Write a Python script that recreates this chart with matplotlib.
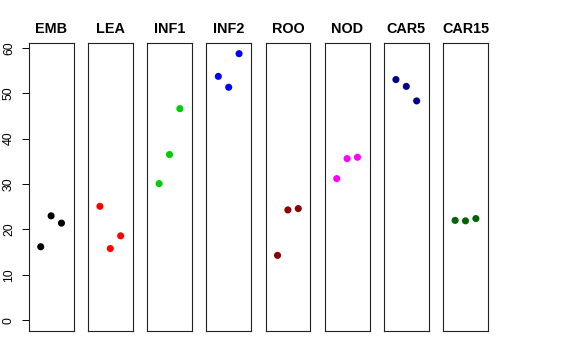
import matplotlib
matplotlib.use("Agg")
import matplotlib.pyplot as plt

categories = ["EMB", "LEA", "INF1", "INF2", "ROO", "NOD", "CAR5", "CAR15"]
colors = ["#000000", "#FF0000", "#00CD00", "#0000FF", "#8B0000", "#FF00FF", "#00008B", "#006400"]
values = {
    "EMB": [16.2, 23.0, 21.4],
    "LEA": [25.1, 15.8, 18.6],
    "INF1": [30.1, 36.5, 46.6],
    "INF2": [53.7, 51.3, 58.7],
    "ROO": [14.3, 24.3, 24.6],
    "NOD": [31.2, 35.6, 35.9],
    "CAR5": [53.0, 51.5, 48.3],
    "CAR15": [22.0, 21.9, 22.4],
}
reps = [1, 2, 3]
yticks = [0, 10, 20, 30, 40, 50, 60]

plt.rcParams['font.family'] = ['Liberation Sans', 'DejaVu Sans']

W, H = 576, 360
fig = plt.figure(figsize=(W / 100, H / 100), dpi=100)

ymax = max(max(v) for v in values.values())
ylo, yhi = 0 - 0.04 * ymax, ymax * 1.04
x_lefts = [28.7, 87.9, 147.1, 206.3, 265.5, 324.7, 383.9, 443.1]
pw = 44.8
top, bottom = 43, 331

for i, (cat, col) in enumerate(zip(categories, colors)):
    ax = fig.add_axes([x_lefts[i] / W, 1 - bottom / H, pw / W, (bottom - top) / H])
    ax.scatter(reps, values[cat], s=26, color=col, edgecolors='none', zorder=3)
    ax.set_xlim(-0.16, 4.16)
    ax.set_ylim(ylo, yhi)
    ax.set_xticks([])
    for sp in ax.spines.values():
        sp.set_linewidth(0.8)
        sp.set_color('#222222')
    ax.set_title(cat, fontsize=10.4, fontweight='bold', pad=7)
    if i == 0:
        ax.set_yticks(yticks)
        ax.tick_params(axis='y', length=5.4, width=0.7, pad=4.5, labelsize=8.8)
        for lab in ax.get_yticklabels():
            lab.set_rotation(90)
            lab.set_va('center')
    else:
        ax.set_yticks([])

fig.savefig("out.png", dpi=100)
